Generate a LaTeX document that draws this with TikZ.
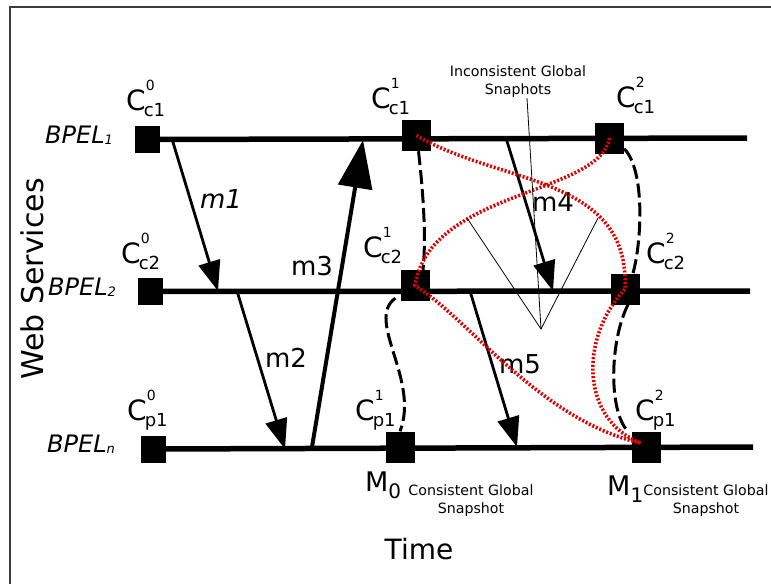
\documentclass[tikz,border=0pt]{standalone}
\usepackage{fontspec}
\setmainfont{DejaVu Sans}
\usetikzlibrary{arrows.meta}
\definecolor{snapRed}{RGB}{225,0,0}
\definecolor{frameGray}{RGB}{60,60,60}
% checkpoint label C^{sup}_{sub}
\newcommand{\ckpt}[2]{C\rlap{\raisebox{20pt}{\fontsize{14}{14}\selectfont #2}}\kern-2pt\raisebox{-6pt}{\fontsize{18}{18}\selectfont #1}}
\newcommand{\bpel}[1]{\itshape BPEL\raisebox{-1pt}{\fontsize{13}{13}\selectfont #1}}
\tikzset{
  ckbox/.style={fill=black,inner sep=0pt,minimum width=29pt,minimum height=31pt},
  ckboxs/.style={ckbox,minimum width=25pt,minimum height=27pt},
  cklab/.style={anchor=base west,inner sep=0pt,font=\fontsize{28}{30}\selectfont},
  tline/.style={line width=5.5pt},
  msg/.style={line width=2.8pt,-{Triangle[length=30pt,width=22pt]}},
  msgbig/.style={line width=4pt,-{Triangle[length=48pt,width=34pt]}},
  mlab/.style={anchor=base,inner sep=0pt,font=\fontsize{26}{28}\selectfont},
  cut/.style={line width=3pt,dash pattern=on 14pt off 5pt},
  snap/.style={snapRed,line width=3.6pt,dash pattern=on 2pt off 1.8pt},
  callout/.style={line width=0.8pt},
  note/.style={inner sep=0pt,align=center,font=\fontsize{14.2}{18}\selectfont},
}
\begin{document}
\begin{tikzpicture}[x=1pt,y=-1pt]
    \useasboundingbox (0,0) rectangle (771,584);
    \clip (0,0) rectangle (771,584);
    \draw[frameGray,line width=1.2pt] (771,7) -- (10,7) -- (10,584);
    % --- processes ---
    \node[rotate=90,anchor=base,inner sep=0pt,font=\fontsize{30}{32}\selectfont] (ws) at (43,279) {Web Services};
    \node[anchor=base west,inner sep=0pt,font=\fontsize{24}{26}\selectfont] (b1) at (45,143) {\bpel{1}};
    \node[anchor=base west,inner sep=0pt,font=\fontsize{24}{26}\selectfont] (b2) at (48,295) {\bpel{2}};
    \node[anchor=base west,inner sep=0pt,font=\fontsize{24}{26}\selectfont] (bn) at (47,452) {\bpel{n}};
    % --- checkpoints ---
    \node[ckboxs] (c10) at (147.5,139.5) {};
    \node[ckboxs] (c20) at (150.5,291.5) {};
    \node[ckboxs] (p10) at (153,449) {};
    \node[ckbox] (c11) at (416.5,135.5) {};
    \node[ckbox] (c12) at (609.5,138) {};
    \node[ckbox] (c21) at (415,285.5) {};
    \node[ckbox] (c22) at (625,289) {};
    \node[ckbox] (p11) at (400,447) {};
    \node[ckbox] (p12) at (646.5,447) {};
    \node[cklab] (lc10) at (126,110) {\ckpt{c1}{0}};
    \node[cklab] (lc11) at (371,108) {\ckpt{c1}{1}};
    \node[cklab] (lc12) at (616,107) {\ckpt{c1}{2}};
    \node[cklab] (lc20) at (121,263) {\ckpt{c2}{0}};
    \node[cklab] (lc21) at (363,257) {\ckpt{c2}{1}};
    \node[cklab] (lc22) at (646,263) {\ckpt{c2}{2}};
    \node[cklab] (lp10) at (127,420) {\ckpt{p1}{0}};
    \node[cklab] (lp11) at (355,420) {\ckpt{p1}{1}};
    \node[cklab] (lp12) at (635,420) {\ckpt{p1}{2}};
    % --- time lines ---
    \coordinate (e1) at (747,138);
    \coordinate (e2) at (750,291);
    \coordinate (en) at (753,447);
    \draw[tline] (c10) -- (e1);
    \draw[tline] (c20) -- (e2);
    \draw[tline] (p10) -- (en);
    % --- messages ---
    \coordinate (m1s) at (172,139);  \coordinate (m1r) at (218,291);
    \coordinate (m2s) at (237,291);  \coordinate (m2r) at (285,449);
    \coordinate (m3s) at (312,447);  \coordinate (m3r) at (363,140);
    \coordinate (m4s) at (506,138);  \coordinate (m4r) at (553,291);
    \coordinate (m5s) at (470,291);  \coordinate (m5r) at (517,447);
    \draw[msg] (m1s) -- (m1r);
    \draw[msg] (m2s) -- (m2r);
    \draw[msgbig] (m3s) -- (m3r);
    \draw[msg] (m4s) -- (m4r);
    \draw[msg] (m5s) -- (m5r);
    \node[mlab,font=\fontsize{26}{28}\selectfont\itshape] (lm1) at (221,208) {m1};
    \node[mlab] (lm2) at (286,367) {m2};
    \node[mlab] (lm3) at (312,275) {m3};
    \node[mlab] (lm4) at (553,211) {m4};
    \node[mlab] (lm5) at (520,373) {m5};
    % --- consistent cuts (dashed) ---
    \draw[cut] ([xshift=2pt]c11.south) .. controls (424,200) and (426,240) .. ([xshift=8pt]c21.north);
    \draw[cut] ([xshift=-5pt,yshift=3pt]c21.south west) .. controls (365,320) and (420,380) .. (p11.north);
    \draw[cut] ([yshift=5pt]c12.south east) .. controls (645,170) and (642,240) .. ([xshift=8pt]c22.north);
    \draw[cut] ([xshift=3pt]c22.south) .. controls (610,340) and (608,410) .. ([xshift=-4pt]p12.north west);
    % --- inconsistent cuts (red dotted) ---
    \draw[snap] (c11.center) .. controls (500,185) and (630,175) .. (c22.center)
        .. controls (578,340) and (582,420) .. ([xshift=-6pt,yshift=4pt]p12.center);
    \draw[snap] (c12.center) .. controls (600,195) and (430,190) .. (c21.center)
        .. controls (470,320) and (540,420) .. ([xshift=-6pt,yshift=4pt]p12.center);
    % --- snapshot notes ---
    \node[note,anchor=north] (igs) at (518,66) {Inconsistent Global\\Snaphots};
    \coordinate (igsHub) at (541,329);
    \coordinate (igsA) at (467,218);
    \coordinate (igsB) at (598,218);
    \draw[callout] ([xshift=9pt]igs.south) -- (igsHub);
    \draw[callout] (igsA) -- (igsHub) -- (igsB);
    \node[anchor=base west,inner sep=0pt,font=\fontsize{27}{30}\selectfont] (mm0) at (365,491) {M\raisebox{-7pt}{\fontsize{20}{20}\selectfont 0}};
    \node[anchor=base west,inner sep=0pt,font=\fontsize{27}{30}\selectfont] (mm1) at (607,495) {M\raisebox{-7pt}{\fontsize{20}{20}\selectfont 1}};
    \node[note,anchor=north] (cgs0) at (471,485) {Consistent Global\\Snapshot};
    \node[note,anchor=north] (cgs1) at (706,485) {Consistent Global\\Snapshot};
    \node[anchor=base,inner sep=0pt,font=\fontsize{28}{30}\selectfont] (time) at (419,559) {Time};
\end{tikzpicture}
\end{document}
